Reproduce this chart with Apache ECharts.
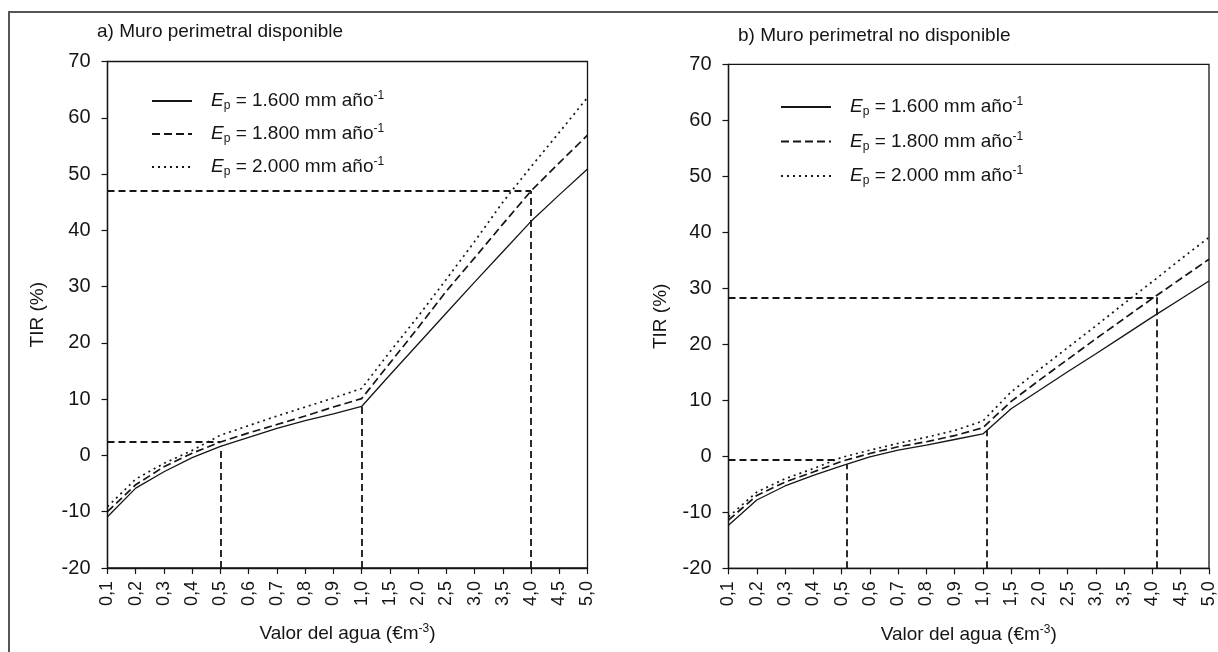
<!DOCTYPE html>
<html lang="es">
<head>
<meta charset="utf-8">
<style>
  html, body { margin: 0; height: 100%; background: #fff; }
  #chart { width: 1218px; height: 652px; }
</style>
</head>
<body>
<div id="chart"></div>
<script src="https://cdn.jsdelivr.net/npm/echarts@6/dist/echarts.min.js"></script>
<script>
// valor del agua (categorías del eje x)
const valorAgua = ['0,1','0,2','0,3','0,4','0,5','0,6','0,7','0,8','0,9','1,0','1,5','2,0','2,5','3,0','3,5','4,0','4,5','5,0'];
const yTicks = { min: -20, max: 70, step: 10 };

// a) muro perimetral disponible
const a1600 = [-10.9, -5.8, -2.9, -0.4, 1.6, 3.2, 4.8, 6.2, 7.4, 8.7, 14.3, 19.8, 25.3, 30.8, 36.2, 41.6, 46.3, 50.9];
const a1800 = [-10.0, -5.2, -2.0, 0.4, 2.4, 4.0, 5.5, 7.0, 8.6, 10.1, 16.4, 22.7, 29.2, 35.1, 41.1, 47.0, 52.0, 56.9];
const a2000 = [-9.1, -4.2, -1.4, 0.9, 3.6, 5.3, 7.0, 8.6, 10.2, 11.9, 18.4, 24.7, 31.3, 38.0, 45.0, 51.3, 57.4, 63.6];

// b) muro perimetral no disponible
const b1600 = [-12.3, -7.8, -5.3, -3.4, -1.7, -0.1, 1.1, 2.0, 3.0, 4.0, 8.5, 11.8, 15.1, 18.3, 21.6, 24.9, 28.1, 31.3];
const b1800 = [-11.4, -7.0, -4.6, -2.8, -0.9, 0.5, 1.7, 2.6, 3.7, 5.1, 9.8, 13.6, 17.3, 21.0, 24.6, 28.2, 31.7, 35.2];
const b2000 = [-10.8, -6.4, -4.0, -2.2, -0.2, 1.1, 2.3, 3.4, 4.6, 6.3, 11.5, 15.5, 19.4, 23.3, 27.3, 31.2, 35.2, 39.1];

// líneas de referencia discontinuas [x, y] en índice de categoría
const refA = [
  [[0, 47], [15, 47]],
  [[15, -20], [15, 47]],
  [[0, 2.4], [4, 2.4]],
  [[4, -20], [4, 1.6]],
  [[9, -20], [9, 8.7]]
];
const refB = [
  [[0, 28.4], [15.14, 28.4]],
  [[15.14, -20], [15.14, 28.4]],
  [[0, -0.6], [3.85, -0.6]],
  [[4.17, -20], [4.17, -1.4]],
  [[9.12, -20], [9.12, 4.6]]
];

const seriesNames = ['1600', '1800', '2000'];
const legendText = ['1.600', '1.800', '2.000'];
const titles = ['a) Muro perimetral disponible', 'b) Muro perimetral no disponible'];

const ink = '#151515';
const font = 'Liberation Sans, Arial, sans-serif';
const lineTypes = ['solid', [8, 4], [2, 4]];
const lineWidths = [1.3, 1.7, 1.7];

const chart = echarts.init(document.getElementById('chart'), null, { renderer: 'canvas' });

const pairs = arr => arr.map((v, i) => [i, v]);

function makeX(gridIndex) {
  return {
    type: 'value', gridIndex, min: 0, max: valorAgua.length - 1, interval: 1,
    name: '{t|Valor del agua (€m}{u|-3}{t|)}',
    nameLocation: 'middle', nameGap: 55,
    nameTextStyle: {
      rich: {
        t: { fontSize: 19, color: ink, fontFamily: font, lineHeight: 22 },
        u: { fontSize: 12, color: ink, fontFamily: font, lineHeight: 12, verticalAlign: 'top' }
      }
    },
    axisLine: { onZero: false, lineStyle: { color: ink, width: 1.3 } },
    axisTick: { length: 6, lineStyle: { color: ink, width: 1.2 } },
    axisLabel: {
      rotate: 90, margin: 13, fontSize: 18, color: ink, fontFamily: font,
      formatter: v => valorAgua[v] || ''
    },
    splitLine: { show: false }
  };
}

function makeY(gridIndex, gap) {
  return {
    type: 'value', gridIndex, min: yTicks.min, max: yTicks.max, interval: yTicks.step,
    name: 'TIR (%)', nameLocation: 'middle', nameGap: gap,
    nameTextStyle: { fontSize: 19, color: ink, fontFamily: font },
    axisLine: { show: true, onZero: false, lineStyle: { color: ink, width: 1.3 } },
    axisTick: { show: true, length: 6, lineStyle: { color: ink, width: 1.2 } },
    axisLabel: { margin: 17, fontSize: 20, color: ink, fontFamily: font },
    splitLine: { show: false }
  };
}

function refLines(ref) {
  return ref.map(seg => [
    { coord: seg[0], symbol: 'none' },
    { coord: seg[1], symbol: 'none' }
  ]);
}

function makeSeries(data, idx, gridIndex, ref) {
  const s = {
    name: seriesNames[idx], type: 'line',
    xAxisIndex: gridIndex, yAxisIndex: gridIndex,
    data: pairs(data), symbol: 'none', smooth: false, silent: true,
    lineStyle: { color: ink, width: lineWidths[idx], type: lineTypes[idx] },
    itemStyle: { color: ink },
    z: 3
  };
  if (ref) {
    s.markLine = {
      silent: true, symbol: 'none', label: { show: false },
      lineStyle: { color: ink, width: 1.8, type: [7, 4] },
      data: refLines(ref)
    };
  }
  return s;
}

const legendRich = {
  e: { fontSize: 19, fontStyle: 'italic', color: ink, fontFamily: font, lineHeight: 22, padding: [0, 0, 0, 14] },
  s: { fontSize: 12, color: ink, fontFamily: font, lineHeight: 12, verticalAlign: 'bottom' },
  t: { fontSize: 19, color: ink, fontFamily: font, lineHeight: 22 },
  u: { fontSize: 12, color: ink, fontFamily: font, lineHeight: 12, verticalAlign: 'top' }
};

function makeLegend(left, top, w, gap) {
  return {
    orient: 'vertical', left, top, itemWidth: w, itemHeight: 14, itemGap: gap,
    selectedMode: false, padding: 0,
    data: seriesNames.slice(),
    itemStyle: { opacity: 0 },
    formatter: name => '{e|E}{s|p}{t| = ' + legendText[seriesNames.indexOf(name)] + ' mm año}{u|-1}',
    textStyle: { rich: legendRich }
  };
}

const option = {
  animation: false,
  backgroundColor: '#fff',
  textStyle: { fontFamily: font, color: ink },
  title: [
    { text: titles[0], left: 97, top: 22, padding: 0, textStyle: { fontSize: 19, fontWeight: 'normal', color: ink, fontFamily: font } },
    { text: titles[1], left: 738, top: 26, padding: 0, textStyle: { fontSize: 19, fontWeight: 'normal', color: ink, fontFamily: font } }
  ],
  legend: [makeLegend(151, 90, 40, 11), makeLegend(780, 96, 50, 12.5)],
  grid: [
    { left: 107.5, right: 630.5, top: 61.5, bottom: 84, show: true, borderColor: ink, borderWidth: 1.3, backgroundColor: 'transparent' },
    { left: 728.5, right: 8.7, top: 64.3, bottom: 83.7, show: true, borderColor: ink, borderWidth: 1.3, backgroundColor: 'transparent' }
  ],
  xAxis: [makeX(0), makeX(1)],
  yAxis: [makeY(0, 60), makeY(1, 58)],
  series: [
    makeSeries(a1600, 0, 0, refA),
    makeSeries(a1800, 1, 0),
    makeSeries(a2000, 2, 0),
    makeSeries(b1600, 0, 1, refB),
    makeSeries(b1800, 1, 1),
    makeSeries(b2000, 2, 1)
  ],
  graphic: [
    {
      type: 'polyline', silent: true, z: 0,
      shape: { points: [[9, 660], [9, 12], [1230, 12]] },
      style: { stroke: '#555', lineWidth: 2, fill: null }
    }
  ]
};

chart.setOption(option);
window.addEventListener('resize', chart.resize);
</script>
</body>
</html>
